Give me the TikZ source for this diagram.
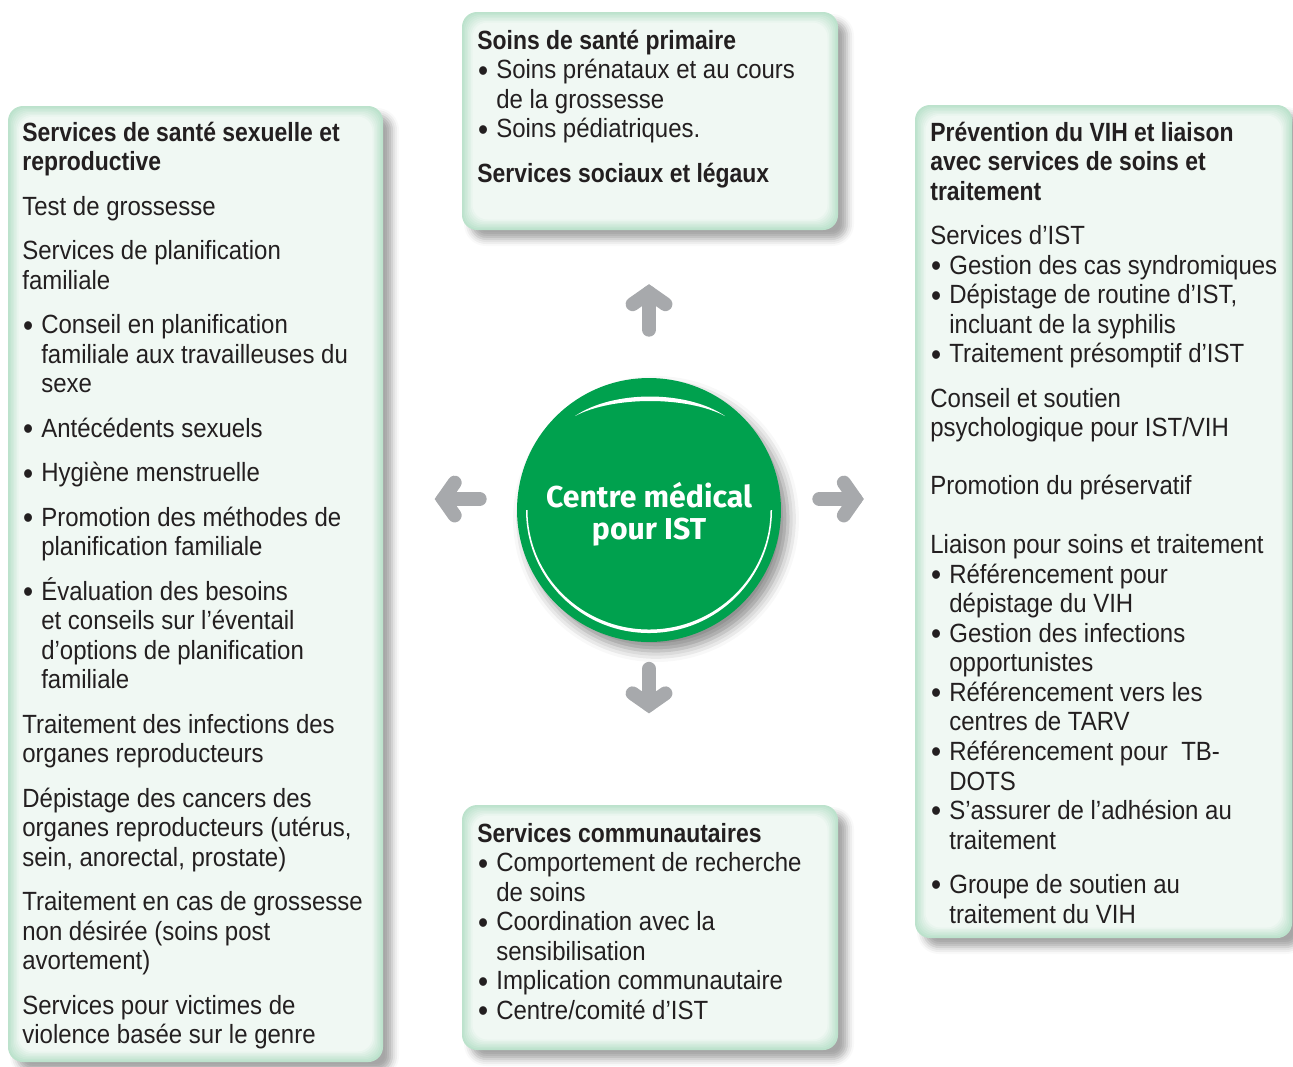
\documentclass[tikz,border=0pt]{standalone}
\usepackage{fontspec}
\setmainfont{Liberation Sans}[FakeStretch=0.91, BoldFeatures={FakeStretch=0.87}]
\newfontfamily\rondfont{Fira Sans}
\usetikzlibrary{calc}
\usetikzlibrary{shadows.blur}

\definecolor{istgreen}{HTML}{00A14E}
\definecolor{boxedge}{HTML}{BCE2CC}
\definecolor{boxfill}{HTML}{F1F8F4}
\definecolor{arrowgray}{HTML}{A7A9AC}
\definecolor{texte}{HTML}{231F20}

\newcommand\puce{\makebox[10.8pt][l]{\kern0.5pt\raisebox{-0.09em}{\smash{\scalebox{1.2}{\textbullet}}}}}
\newcommand\retrait{\hspace*{10.8pt}}

\tikzset{
  boxtext/.style={anchor=north west, inner sep=0pt, align=left, text=texte,
    font=\fontsize{15}{16.8}\selectfont},
  garrow/.style={draw=arrowgray, line width=0.28cm, line cap=round},
  boxshadow/.style={blur shadow={shadow xshift=0.18cm, shadow yshift=-0.18cm,
    shadow blur radius=0.14cm, shadow opacity=35}}
}

% box with soft green rim: #1 = north west corner, #2 = south east corner
\newcommand\casier[2]{%
  \path[boxshadow, rounded corners=0.3cm] (#1) rectangle (#2);
  \foreach \k in {0,...,7}{
    \pgfmathtruncatemacro\pct{100-\k*14}
    \fill[boxedge!\pct!boxfill, rounded corners=0.3cm]
      ($(#1)+(\k*1.5,\k*1.5)$) rectangle ($(#2)-(\k*1.5,\k*1.5)$);
  }}

% grey arrow: #1 = tip, #2 = direction, #3 = shaft length
\newcommand\fleche[3]{%
  \draw[garrow] (#1) -- ($(#1)+(#2+180:#3)$);
  \draw[garrow, line join=miter] ($(#1)+(#2+125:20)$) -- (#1) -- ($(#1)+(#2-125:20)$);}

\begin{document}
\begin{tikzpicture}[x=0.02cm, y=-0.02cm]
\useasboundingbox (0,0) rectangle (1293,1066);

\coordinate (lnw) at (8,106);   \coordinate (lse) at (383,1062);
\coordinate (tnw) at (462,12);  \coordinate (tse) at (838,230);
\coordinate (rnw) at (915,105); \coordinate (rse) at (1292,938);
\coordinate (bnw) at (462,805); \coordinate (bse) at (838,1050);
\casier{lnw}{lse}
\casier{tnw}{tse}
\casier{rnw}{rse}
\casier{bnw}{bse}

% centre
\node[circle, fill=istgreen, minimum size=5.28cm, inner sep=0pt,
  blur shadow={shadow xshift=0.14cm, shadow yshift=-0.18cm, shadow blur radius=0.22cm, shadow opacity=45}]
  (centre) at (649,510) {};
\node[text=white, align=center, inner sep=0pt, font=\rondfont\bfseries\fontsize{17.2}{18.2}\selectfont]
  (titre) at ($(centre)+(0,4)$) {Centre médical\\pour IST};
\begin{scope}[shift={(centre)}]
\fill[white] (-74,-94) .. controls (-36,-120) and (38,-120) .. (76,-94)
  .. controls (38,-114) and (-36,-114) .. (-74,-94) -- cycle;
\fill[white] (-123,0) arc[start angle=180, end angle=0, radius=123]
  -- (121.5,0) arc[start angle=0, end angle=180, x radius=121.5, y radius=119.5] -- cycle;
\end{scope}

% arrows
\coordinate (haut) at ($(centre.north)+(0,-85)$);
\coordinate (droite) at ($(centre.east)+(74,-11)$);
\coordinate (gauche) at ($(centre.west)+(-73.5,-11)$);
\coordinate (bas) at ($(centre.south)+(0,62.5)$);
\fleche{haut}{270}{37}
\fleche{droite}{0}{36}
\fleche{gauche}{180}{36.5}
\fleche{bas}{90}{36}

% texts
\node[boxtext] (soins) at (477,28.3) {\strut\textbf{Soins de santé primaire}\\
\puce Soins prénataux et au cours\\
\retrait de la grossesse\\
\puce Soins pédiatriques.\\[8.5pt]
\textbf{Services sociaux et légaux}};

\node[boxtext] (sexuelle) at (22,120.3) {\strut\textbf{Services de santé sexuelle et}\\
\textbf{reproductive}\\[8.5pt]
Test de grossesse\\[8.5pt]
Services de planification\\
familiale\\[8.5pt]
\puce Conseil en planification\\
\retrait familiale aux travailleuses du\\
\retrait sexe\\[8.5pt]
\puce Antécédents sexuels\\[8.5pt]
\puce Hygiène menstruelle\\[8.5pt]
\puce Promotion des méthodes de\\
\retrait planification familiale\\[8.5pt]
\puce Évaluation des besoins\\
\retrait et conseils sur l’éventail\\
\retrait d’options de planification\\
\retrait familiale\\[8.5pt]
Traitement des infections des\\
organes reproducteurs\\[8.5pt]
Dépistage des cancers des\\
organes reproducteurs (utérus,\\
sein, anorectal, prostate)\\[8.5pt]
Traitement en cas de grossesse\\
non désirée (soins post\\
avortement)\\[8.5pt]
Services pour victimes de\\
violence basée sur le genre};

\node[boxtext] (prevention) at (930,120.3) {\strut\textbf{Prévention du VIH et liaison}\\
\textbf{avec services de soins et}\\
\textbf{traitement}\\[8.5pt]
Services d’IST\\
\puce Gestion des cas syndromiques\\
\puce Dépistage de routine d’IST,\\
\retrait incluant de la syphilis\\
\puce Traitement présomptif d’IST\\[8.5pt]
Conseil et soutien\\
psychologique pour IST/VIH\\[16.2pt]
Promotion du préservatif\\[16.8pt]
Liaison pour soins et traitement\\
\puce Référencement pour\\
\retrait dépistage du VIH\\
\puce Gestion des infections\\
\retrait opportunistes\\
\puce Référencement vers les\\
\retrait centres de TARV\\
\puce Référencement pour\ \ TB-\\
\retrait DOTS\\
\puce S’assurer de l’adhésion au\\
\retrait traitement\\[8.5pt]
\puce Groupe de soutien au\\
\retrait traitement du VIH};

\node[boxtext] (communaute) at (477,821.3) {\strut\textbf{Services communautaires}\\
\puce Comportement de recherche\\
\retrait de soins\\
\puce Coordination avec la\\
\retrait sensibilisation\\
\puce Implication communautaire\\
\puce Centre/comité d’IST};
\end{tikzpicture}
\end{document}
